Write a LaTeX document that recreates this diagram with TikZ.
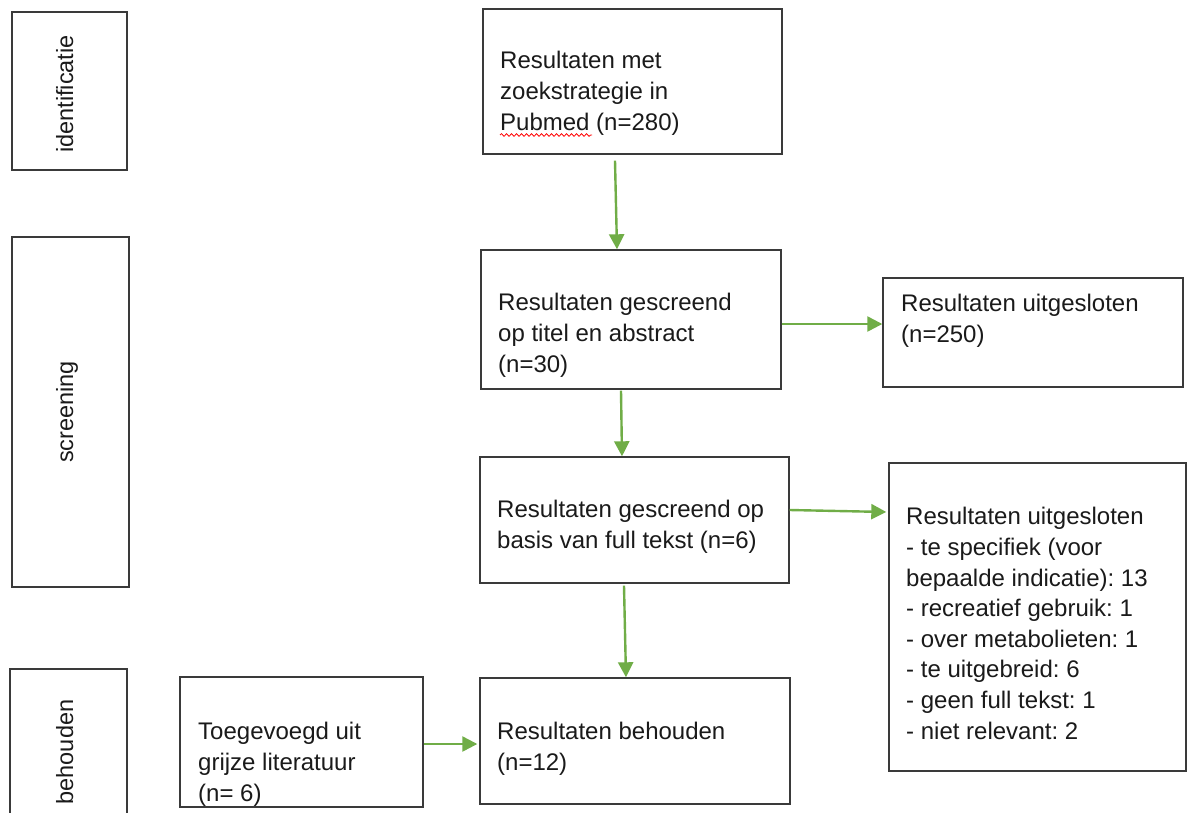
\documentclass[tikz,border=0pt]{standalone}
\usepackage{fontspec}
\setmainfont{Liberation Sans}
\frenchspacing
\usetikzlibrary{arrows.meta,decorations.pathmorphing}
\definecolor{arrgreen}{HTML}{70AD47}
\definecolor{boxgray}{HTML}{3A3A3A}
\definecolor{txtgray}{HTML}{1A1A1A}
\tikzset{
  box/.style={draw=boxgray,line width=1.4pt,inner sep=0pt,fill=white},
  txt/.style={inner sep=0pt,align=left,text=txtgray,font=\fontsize{24}{31}\selectfont\frenchspacing,anchor=base west},
  vtxt/.style={inner sep=0pt,text=txtgray,font=\fontsize{23.5}{28}\selectfont,rotate=90,anchor=base},
  arr/.style={draw=arrgreen,line width=2.4pt,-{Triangle[length=15pt,width=15pt]}}
}
\begin{document}
\begin{tikzpicture}[x=1pt,y=-1pt]
\useasboundingbox (0,0) rectangle (1187,812);
% phase boxes
\node[box,minimum width=115pt,minimum height=158pt] (idbox) at (69.5,91) {};
\node[box,minimum width=117pt,minimum height=350pt] (scrbox) at (70.5,412) {};
\node[box,minimum width=117pt,minimum height=170pt] (behbox) at (68.5,754) {};
\node[vtxt] (idtxt) at (73,94) {identificatie};
\node[vtxt] (scrtxt) at (73,412) {screening};
\node[vtxt] (behtxt) at (73,752) {behouden};
% main boxes
\node[box,minimum width=299pt,minimum height=145pt] (top) at (632.5,81.5) {};
\node[box,minimum width=300pt,minimum height=139pt] (scr1) at (631,319.5) {};
\node[box,minimum width=300pt,minimum height=109pt] (exc1) at (1033,332.5) {};
\node[box,minimum width=309pt,minimum height=126pt] (scr2) at (634.5,520) {};
\node[box,minimum width=297pt,minimum height=308pt] (exc2) at (1037.5,617) {};
\node[box,minimum width=243pt,minimum height=130pt] (grey) at (301.5,742) {};
\node[box,minimum width=310pt,minimum height=126pt] (kept) at (635,741) {};
% texts (anchor = baseline of the last line)
\node[txt] (toptxt) at (500,130) {Resultaten met\\zoekstrategie in\\Pubmed (n=280)};
\node[txt] (scr1txt) at (498,372) {Resultaten gescreend\\op titel en abstract\\(n=30)};
\node[txt] (exc1txt) at (901,342) {Resultaten uitgesloten\\(n=250)};
\node[txt] (scr2txt) at (497,548) {Resultaten gescreend op\\basis van full tekst (n=6)};
\node[txt,font=\fontsize{24}{30.6}\selectfont\frenchspacing] (exc2txt) at (906,739) {Resultaten uitgesloten\\- te specifiek (voor\\bepaalde indicatie): 13\\- recreatief gebruik: 1\\- over metabolieten: 1\\- te uitgebreid: 6\\- geen full tekst: 1\\- niet relevant: 2};
\node[txt] (greytxt) at (198,801) {Toegevoegd uit\\grijze literatuur\\(n= 6)};
\node[txt] (kepttxt) at (497,770) {Resultaten behouden\\(n=12)};
% spell-check underline
\draw[red,line width=0.8pt,decorate,decoration={snake,amplitude=1.3pt,segment length=5pt}] (500,135) -- (592,135);
% arrows
\draw[arr] ([xshift=-17.5pt,yshift=-6pt]top.south) -- ([xshift=-14pt]scr1.north);
\draw[arr] ([xshift=-10pt,yshift=-1pt]scr1.south) -- ([xshift=-12.5pt]scr2.north);
\draw[arr] ([xshift=-10.5pt,yshift=-2pt]scr2.south) -- ([xshift=-9pt]kept.north);
\draw[arr] ([yshift=-4.5pt]scr1.east) -- ([yshift=8.5pt]exc1.west);
\draw[arr] ([yshift=10pt]scr2.east) -- ([xshift=-2pt,yshift=105pt]exc2.west);
\draw[arr] ([yshift=-2pt]grey.east) -- ([xshift=-2pt,yshift=-3pt]kept.west);
\end{tikzpicture}
\end{document}
